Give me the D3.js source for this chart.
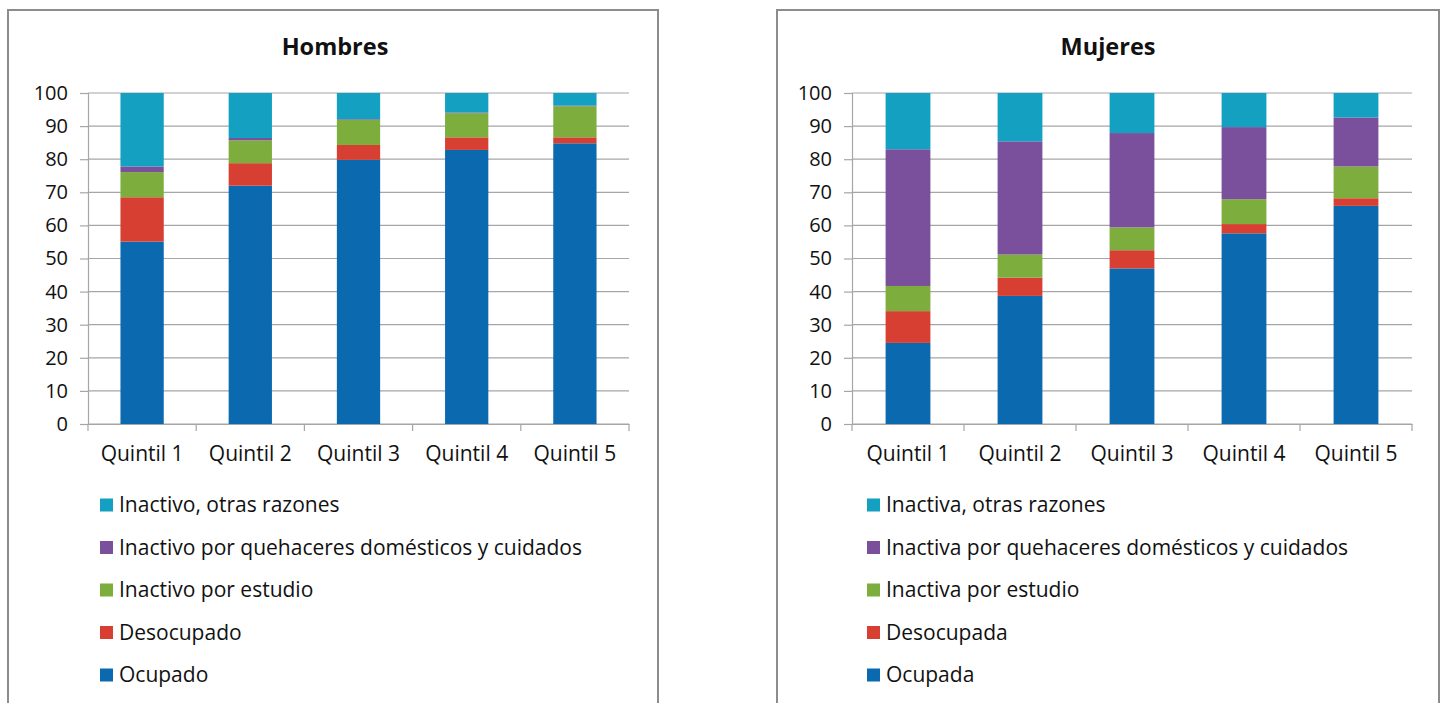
<!DOCTYPE html>
<html>
<head>
<meta charset="utf-8">
<script src="https://cdn.jsdelivr.net/npm/d3@7"></script>
<style>
  html, body { margin: 0; padding: 0; background: #fff; }
  svg { display: block; font-family: "Open Sans", "Noto Sans", sans-serif; }
</style>
</head>
<body>
<svg id="chart" width="1446" height="703"></svg>
<script>
// ---- Data ----
const categories = ["Quintil 1", "Quintil 2", "Quintil 3", "Quintil 4", "Quintil 5"];
const yTicks = [0, 10, 20, 30, 40, 50, 60, 70, 80, 90, 100];

// Hombres (stack order bottom -> top)
const hombresOcupado    = [55.1, 72.0, 79.8, 82.8, 84.8];
const hombresDesocupado = [13.4, 6.8, 4.5, 3.8, 1.8];
const hombresEstudio    = [7.6, 6.9, 7.6, 7.3, 9.4];
const hombresDomestico  = [1.7, 0.7, 0.2, 0.2, 0.2];
const hombresOtras      = [22.2, 13.6, 7.9, 5.9, 3.8];
const hombresLabels = ["Ocupado", "Desocupado", "Inactivo por estudio",
  "Inactivo por quehaceres domésticos y cuidados", "Inactivo, otras razones"];

// Mujeres
const mujeresOcupada    = [24.5, 38.7, 47.0, 57.6, 65.9];
const mujeresDesocupada = [9.6, 5.5, 5.5, 2.8, 2.3];
const mujeresEstudio    = [7.6, 7.0, 6.9, 7.5, 9.6];
const mujeresDomestico  = [41.3, 34.2, 28.5, 21.8, 14.8];
const mujeresOtras      = [17.0, 14.6, 12.1, 10.3, 7.4];
const mujeresLabels = ["Ocupada", "Desocupada", "Inactiva por estudio",
  "Inactiva por quehaceres domésticos y cuidados", "Inactiva, otras razones"];

const seriesColors = ["#0b69b0", "#d63f31", "#7dad3c", "#7a4f9b", "#13a0c1"];

// ---- Drawing ----
const svg = d3.select("#chart");

function drawPanel(cfg) {
  const keys = ["s0", "s1", "s2", "s3", "s4"];
  const rows = categories.map((c, i) => {
    const r = { cat: c };
    cfg.series.forEach((arr, k) => { r[keys[k]] = arr[i]; });
    return r;
  });
  const stacked = d3.stack().keys(keys)(rows);

  const g = svg.append("g");

  // frame
  g.append("path")
    .attr("d", `M${cfg.fx0},${cfg.fy0 + 800} V${cfg.fy0} H${cfg.fx1} V${cfg.fy0 + 800}`)
    .attr("fill", "none").attr("stroke", "#8c8c8c").attr("stroke-width", 2);

  // title
  g.append("text")
    .attr("x", cfg.titleX).attr("y", 55)
    .attr("text-anchor", "middle")
    .attr("font-size", 23.5).attr("font-weight", "bold").attr("fill", "#111")
    .text(cfg.title);

  const x = d3.scaleBand().domain(categories)
    .range([cfg.left, cfg.right]).paddingInner(0.6).paddingOuter(0.3);
  const y = d3.scaleLinear().domain([0, 100]).range([cfg.bottom, cfg.top]);

  // gridlines
  g.append("g").selectAll("line").data(yTicks).join("line")
    .attr("x1", cfg.left).attr("x2", cfg.right)
    .attr("y1", d => y(d)).attr("y2", d => y(d))
    .attr("stroke", "#a6a6a6").attr("stroke-width", 1.2);

  // y axis
  const yAxis = g.append("g").attr("transform", `translate(${cfg.left},0)`)
    .call(d3.axisLeft(y).tickValues(yTicks).tickSize(8).tickPadding(12));
  yAxis.select(".domain").attr("stroke", "#a6a6a6").attr("stroke-width", 1.2);
  yAxis.selectAll(".tick line").attr("stroke", "#a6a6a6").attr("stroke-width", 1.2);
  yAxis.selectAll(".tick text").attr("font-size", 20).attr("fill", "#111")
    .attr("font-family", "\"Open Sans\", sans-serif");

  // bars
  g.append("g").selectAll("g").data(stacked).join("g")
    .attr("fill", (d, i) => seriesColors[i])
    .selectAll("rect").data(d => d).join("rect")
    .attr("x", d => x(d.data.cat))
    .attr("width", x.bandwidth())
    .attr("y", d => y(d[1]))
    .attr("height", d => y(d[0]) - y(d[1]));

  // x axis
  const step = x.step();
  const xAxis = g.append("g").attr("transform", `translate(0,${cfg.bottom})`)
    .call(d3.axisBottom(x).tickSize(0).tickPadding(22));
  xAxis.select(".domain").attr("stroke", "#a6a6a6").attr("stroke-width", 1.2);
  xAxis.selectAll(".tick text").attr("font-size", 21).attr("fill", "#111")
    .attr("font-family", "\"Open Sans\", sans-serif");
  const bounds = d3.range(categories.length + 1).map(i => cfg.left + i * step);
  g.append("g").selectAll("line").data(bounds).join("line")
    .attr("x1", d => d).attr("x2", d => d)
    .attr("y1", cfg.bottom).attr("y2", cfg.bottom + 7)
    .attr("stroke", "#a6a6a6").attr("stroke-width", 1.2);

  // legend (top -> bottom reversed order)
  const legendRows = cfg.labels.map((l, i) => ({ label: l, color: seriesColors[i] })).reverse();
  const lg = g.append("g").selectAll("g").data(legendRows).join("g")
    .attr("transform", (d, i) => `translate(${cfg.legendX},${505 + i * 42.5})`);
  lg.append("rect").attr("x", 0).attr("y", -6.5).attr("width", 13).attr("height", 13)
    .attr("fill", d => d.color);
  lg.append("text").attr("x", 19).attr("y", 0).attr("dy", "0.35em")
    .attr("font-size", 21).attr("fill", "#111").text(d => d.label);
}

drawPanel({
  title: "Hombres", titleX: 335,
  fx0: 8, fx1: 658, fy0: 10,
  left: 88, right: 629, top: 93, bottom: 424,
  legendX: 100,
  series: [hombresOcupado, hombresDesocupado, hombresEstudio, hombresDomestico, hombresOtras],
  labels: hombresLabels
});

drawPanel({
  title: "Mujeres", titleX: 1108,
  fx0: 777, fx1: 1439, fy0: 10,
  left: 852, right: 1412, top: 93, bottom: 424,
  legendX: 867,
  series: [mujeresOcupada, mujeresDesocupada, mujeresEstudio, mujeresDomestico, mujeresOtras],
  labels: mujeresLabels
});
</script>
</body>
</html>
